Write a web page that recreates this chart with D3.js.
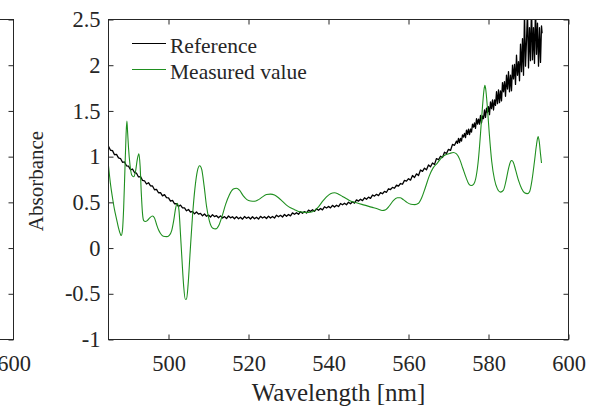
<!DOCTYPE html>
<html>
<head>
<meta charset="utf-8">
<script src="https://cdn.jsdelivr.net/npm/d3@7/dist/d3.min.js"></script>
<style>
  body { margin: 0; background: #fff; }
  svg text { font-family: "Liberation Serif", "Times New Roman", serif !important; fill: #262626; }
</style>
</head>
<body>
<div id="chart"></div>
<script>
// ---- data ----
const xDomain = [485, 600]
const yDomain = [-1, 2.5]
const xTicks = [500, 520, 540, 560, 580, 600]
const yTicks = [-1, -0.5, 0, 0.5, 1, 1.5, 2, 2.5]
const seriesNames = ['Reference', 'Measured value']
const xLabel = 'Wavelength [nm]'
const yLabel = 'Absorbance'

// reference spectrum, quieter part [wavelength, absorbance]
const refSmooth = [
  [485, 1.112], [485.5, 1.070], [486, 1.066], [486.5, 1.021], [487, 1.025], [487.5, 0.986],
  [488, 0.979], [488.5, 0.938], [489, 0.942], [489.5, 0.900], [490, 0.896], [490.5, 0.856],
  [491, 0.865], [491.5, 0.826], [492, 0.819], [492.5, 0.778], [493, 0.782], [493.5, 0.740],
  [494, 0.736], [494.5, 0.701], [495, 0.715], [495.5, 0.681], [496, 0.679], [496.5, 0.638],
  [497, 0.642], [497.5, 0.605], [498, 0.606], [498.5, 0.571], [499, 0.585], [499.5, 0.551],
  [500, 0.549], [500.5, 0.513], [501, 0.522], [501.5, 0.485], [502, 0.486], [502.5, 0.454],
  [503, 0.470], [503.5, 0.439], [504, 0.439], [504.5, 0.408], [505, 0.422], [505.5, 0.393],
  [506, 0.401], [506.5, 0.374], [507, 0.395], [507.5, 0.371], [508, 0.379], [508.5, 0.353],
  [509, 0.372], [509.5, 0.348], [510, 0.361], [510.5, 0.339], [511, 0.365], [511.5, 0.344],
  [512, 0.354], [512.5, 0.331], [513, 0.352], [513.5, 0.329], [514, 0.344], [514.5, 0.323],
  [515, 0.351], [515.5, 0.331], [516, 0.343], [516.5, 0.321], [517, 0.344], [517.5, 0.321],
  [518, 0.337], [518.5, 0.316], [519, 0.345], [519.5, 0.326], [520, 0.339], [520.5, 0.318],
  [521, 0.342], [521.5, 0.320], [522, 0.337], [522.5, 0.317], [523, 0.347], [523.5, 0.329],
  [524, 0.343], [524.5, 0.323], [525, 0.349], [525.5, 0.328], [526, 0.346], [526.5, 0.328],
  [527, 0.359], [527.5, 0.342], [528, 0.358], [528.5, 0.340], [529, 0.367], [529.5, 0.348],
  [530, 0.368], [530.5, 0.352], [531, 0.385], [531.5, 0.370], [532, 0.387], [532.5, 0.370],
  [533, 0.398], [533.5, 0.380], [534, 0.399], [534.5, 0.383], [535, 0.415], [535.5, 0.401],
  [536, 0.419], [536.5, 0.402], [537, 0.430], [537.5, 0.413], [538, 0.433], [538.5, 0.418],
  [539, 0.452], [539.5, 0.438], [540, 0.456], [540.5, 0.439], [541, 0.467], [541.5, 0.449],
  [542, 0.469], [542.5, 0.454], [543, 0.487], [543.5, 0.473], [544, 0.490], [544.5, 0.474],
  [545, 0.502], [545.5, 0.485], [546, 0.506], [546.5, 0.492], [547, 0.527], [547.5, 0.514],
  [548, 0.534], [548.5, 0.519], [549, 0.550], [549.5, 0.534], [550, 0.557], [550.5, 0.544],
  [551, 0.580], [551.5, 0.568], [552, 0.588], [552.5, 0.574], [553, 0.606], [553.5, 0.594],
  [554, 0.620], [554.5, 0.610], [555, 0.649], [555.5, 0.640], [556, 0.664], [556.5, 0.654],
  [557, 0.689], [557.5, 0.678], [558, 0.706], [558.5, 0.698], [559, 0.740], [559.5, 0.733],
  [560, 0.759], [560.5, 0.743], [561, 0.794], [561.5, 0.772], [562, 0.812], [562.5, 0.794],
  [563, 0.854], [563.5, 0.839], [564, 0.874], [564.5, 0.856], [565, 0.909], [565.5, 0.889],
  [566, 0.930], [566.5, 0.915], [567, 0.979], [567.5, 0.966], [568, 1.004], [568.5, 0.991],
  [569, 1.049], [569.5, 1.034], [570, 1.080], [570.5, 1.068], [571, 1.134], [571.5, 1.124]
]

// reference spectrum, noisy red end
const refNoisy = [
  [572, 1.17], [572.25, 1.145], [572.5, 1.20], [572.75, 1.153], [573, 1.20], [573.25, 1.17],
  [573.5, 1.237], [573.75, 1.214], [574, 1.254], [574.25, 1.208], [574.5, 1.29], [574.75, 1.244],
  [575, 1.30], [575.25, 1.24], [575.5, 1.302], [575.75, 1.269], [576, 1.356], [576.25, 1.322],
  [576.5, 1.368], [576.75, 1.31], [577, 1.415], [577.25, 1.355], [577.5, 1.41], [577.75, 1.355],
  [578, 1.45], [578.25, 1.37], [578.5, 1.445], [578.75, 1.415], [579, 1.51], [579.25, 1.43],
  [579.5, 1.53], [579.75, 1.483], [580, 1.546], [580.25, 1.46], [580.5, 1.60], [580.75, 1.526],
  [581, 1.62], [581.25, 1.51], [581.5, 1.62], [581.75, 1.56], [582, 1.71], [582.25, 1.58],
  [582.5, 1.73], [582.75, 1.59], [583, 1.72], [583.25, 1.61], [583.5, 1.81], [583.75, 1.71],
  [584, 1.82], [584.25, 1.66], [584.5, 1.89], [584.75, 1.74], [585, 1.93], [585.25, 1.71],
  [585.5, 1.89], [585.75, 1.72], [586, 2.00], [586.25, 1.85], [586.5, 2.01], [586.75, 1.79],
  [587, 2.11], [587.25, 1.89], [587.5, 2.04], [587.75, 1.83], [588, 2.23], [588.25, 1.93],
  [588.5, 2.29], [588.75, 1.89], [589, 2.57], [589.25, 1.99], [589.5, 2.27], [589.75, 2.59],
  [590, 1.97], [590.25, 2.41], [590.5, 2.05], [590.75, 2.66], [591, 2.06], [591.25, 2.41],
  [591.5, 2.02], [591.75, 2.65], [592, 2.12], [592.25, 2.46], [592.5, 1.99], [592.75, 2.41],
  [593, 2.03], [593.25, 2.43], [593.4, 2.35]
]

// measured spectrum [wavelength, absorbance]
const measured = [
  [485, 0.90], [485.5, 0.70], [486, 0.55], [486.5, 0.42], [487, 0.32], [487.5, 0.22],
  [488, 0.15], [488.2, 0.137], [488.5, 0.20], [488.8, 0.45], [489.1, 0.85], [489.4, 1.25],
  [489.6, 1.39], [489.8, 1.25], [490, 1.10], [490.4, 0.90], [490.8, 0.80], [491.3, 0.78],
  [491.8, 0.85], [492.2, 0.97], [492.6, 1.03], [492.9, 0.90], [493.2, 0.60], [493.5, 0.38],
  [493.8, 0.30], [494.2, 0.29], [494.7, 0.30], [495.3, 0.33], [496, 0.35], [496.5, 0.33],
  [497, 0.26], [497.5, 0.20], [498, 0.16], [498.7, 0.13], [499.5, 0.125], [500.2, 0.14],
  [500.8, 0.19], [501.3, 0.30], [501.8, 0.44], [502.2, 0.49], [502.6, 0.42], [503, 0.15],
  [503.4, -0.15], [503.8, -0.42], [504.2, -0.56], [504.5, -0.56], [504.9, -0.40], [505.4, -0.05],
  [506, 0.35], [506.6, 0.65], [507.2, 0.84], [507.8, 0.90], [508.3, 0.86], [508.9, 0.68],
  [509.5, 0.46], [510.2, 0.30], [511, 0.22], [511.8, 0.21], [512.6, 0.25], [513.4, 0.35],
  [514.3, 0.48], [515.2, 0.58], [516.2, 0.645], [517, 0.655], [517.8, 0.63], [518.7, 0.57],
  [519.6, 0.53], [520.5, 0.515], [521.5, 0.512], [522.5, 0.53], [523.5, 0.56], [524.5, 0.585],
  [525.5, 0.59], [526.5, 0.58], [527.5, 0.55], [528.5, 0.51], [529.5, 0.47], [530.5, 0.44],
  [531.5, 0.42], [532.5, 0.40], [533.5, 0.393], [534.5, 0.39], [535.5, 0.392], [536.5, 0.41],
  [537.5, 0.45], [538.5, 0.51], [539.5, 0.56], [540.5, 0.595], [541.5, 0.605], [542.5, 0.59],
  [543.5, 0.565], [544.5, 0.54], [545.5, 0.515], [547, 0.495], [549, 0.47], [551, 0.445],
  [552.5, 0.425], [553.4, 0.411], [554.3, 0.42], [555.2, 0.46], [556.2, 0.52], [557.2, 0.55],
  [557.9, 0.55], [558.7, 0.53], [559.6, 0.50], [560.6, 0.48], [561.6, 0.475], [562.5, 0.49],
  [563.3, 0.55], [564.2, 0.66], [565.2, 0.79], [566.2, 0.88], [567.2, 0.93], [568.3, 0.99],
  [569.3, 1.02], [570.3, 1.035], [571.2, 1.045], [572, 1.03], [572.8, 0.97], [573.6, 0.87],
  [574.4, 0.77], [575.1, 0.70], [575.7, 0.685], [576.3, 0.70], [576.9, 0.78], [577.5, 0.98],
  [578, 1.25], [578.5, 1.55], [578.9, 1.74], [579.1, 1.78], [579.3, 1.74], [579.7, 1.55],
  [580.2, 1.25], [580.8, 0.95], [581.5, 0.75], [582.2, 0.65], [583, 0.612], [583.7, 0.63],
  [584.4, 0.74], [585, 0.87], [585.5, 0.945], [585.8, 0.958], [586.2, 0.94], [586.8, 0.85],
  [587.5, 0.74], [588.3, 0.65], [589, 0.605], [589.7, 0.595], [590.3, 0.62], [590.9, 0.75],
  [591.5, 0.95], [592, 1.13], [592.4, 1.22], [592.7, 1.16], [593, 1.03], [593.25, 0.93]
]

const reference = refSmooth.concat(refNoisy)

// ---- layout ----
const outerWidth = 604
const outerHeight = 409
const margin = {top: 19, right: 36, bottom: 70, left: 108}
const width = outerWidth - margin.left - margin.right   // 460
const height = outerHeight - margin.top - margin.bottom // 320
const axisColor = '#262626'
const serif = 'Liberation Serif, Times New Roman, serif'
const tickFont = 22.5
const tickLen = 5
const fmt = d => String(d)  // plain hyphen minus like the original

const svg = d3.select('#chart')
  .append('svg')
  .attr('width', outerWidth)
  .attr('height', outerHeight)
  .attr('font-family', serif)

const x = d3.scaleLinear().domain(xDomain).range([0, width])
const y = d3.scaleLinear().domain(yDomain).range([height, 0])

// d3 axes stamp font-family="sans-serif" on their group, so put the serif back
let styleTicks = s => {
  s.attr('font-family', serif).attr('font-size', tickFont)
  s.selectAll('text')
    .attr('font-family', serif)
    .attr('font-size', tickFont)
    .attr('fill', axisColor)
}

// ---- neighbouring panel, only its right edge shows ----
let left = svg.append('g').attr('transform', `translate(13.5,${margin.top + 0.5})`)
let xl = d3.scaleLinear().domain(xDomain).range([-width, 0])
left.append('rect')
  .attr('x', -width).attr('y', 0)
  .attr('width', width).attr('height', height)
  .attr('fill', 'none').attr('stroke', axisColor)
left.append('g')
  .call(d3.axisLeft(y).tickValues(yTicks).tickSize(0).tickFormat(''))
  .call(s => s.select('.domain').remove())
  .call(s => s.selectAll('.tick line').attr('x2', -tickLen).attr('stroke', axisColor))
left.append('g')
  .attr('transform', `translate(0,${height})`)
  .call(d3.axisBottom(xl).tickValues([600]).tickSize(0).tickPadding(16).tickFormat(fmt))
  .call(s => s.select('.domain').remove())
  .call(styleTicks)

// ---- main panel ----
let g = svg.append('g')
  .attr('transform', `translate(${margin.left + 0.5},${margin.top + 0.5})`)

g.append('clipPath').attr('id', 'plot-clip')
  .append('rect').attr('width', width).attr('height', height)

// axes: ticks point inward on all four sides
g.append('g')
  .attr('transform', `translate(0,${height})`)
  .call(d3.axisBottom(x).tickValues(xTicks).tickSize(-tickLen).tickSizeOuter(0)
    .tickPadding(16).tickFormat(fmt))
  .call(s => s.select('.domain').remove())
  .call(s => s.selectAll('.tick line').attr('stroke', axisColor))
  .call(styleTicks)

g.append('g')
  .call(d3.axisTop(x).tickValues(xTicks).tickSize(-tickLen).tickFormat(''))
  .call(s => s.select('.domain').remove())
  .call(s => s.selectAll('.tick line').attr('stroke', axisColor))

g.append('g')
  .call(d3.axisLeft(y).tickValues(yTicks).tickSize(-tickLen).tickPadding(8).tickFormat(fmt))
  .call(s => s.select('.domain').remove())
  .call(s => s.selectAll('.tick line').attr('stroke', axisColor))
  .call(styleTicks)

g.append('g')
  .attr('transform', `translate(${width},0)`)
  .call(d3.axisRight(y).tickValues(yTicks).tickSize(-tickLen).tickFormat(''))
  .call(s => s.select('.domain').remove())
  .call(s => s.selectAll('.tick line').attr('stroke', axisColor))

// lines
let line = d3.line()
  .x(d => x(d[0]))
  .y(d => y(d[1]))

let plot = g.append('g').attr('clip-path', 'url(#plot-clip)')

plot.append('path')
  .datum(reference)
  .attr('fill', 'none')
  .attr('stroke', '#000')
  .attr('stroke-width', 1.3)
  .attr('stroke-linejoin', 'round')
  .attr('d', line)

plot.append('path')
  .datum(measured)
  .attr('fill', 'none')
  .attr('stroke', '#1f8f1f')
  .attr('stroke-width', 1.1)
  .attr('d', line.curve(d3.curveMonotoneX))

// box
g.append('rect')
  .attr('width', width).attr('height', height)
  .attr('fill', 'none').attr('stroke', axisColor)

// axis labels
g.append('text')
  .attr('x', width / 2)
  .attr('y', 381)
  .attr('text-anchor', 'middle')
  .attr('font-size', 25)
  .text(xLabel)

svg.append('text')
  .attr('transform', 'translate(43,181) rotate(-90)')
  .attr('text-anchor', 'middle')
  .attr('font-size', 21)
  .text(yLabel)

// legend
let colors = ['#000', '#1f8f1f']
let legend = svg.append('g')
seriesNames.forEach((name, i) => {
  let ly = 43 + i * 26
  legend.append('line')
    .attr('x1', 132).attr('x2', 166)
    .attr('y1', ly + 0.5).attr('y2', ly + 0.5)
    .attr('stroke', colors[i])
    .attr('stroke-width', 1)
  legend.append('text')
    .attr('x', 170)
    .attr('y', ly + 10)
    .attr('font-size', 21.5)
    .text(name)
})
</script>
</body>
</html>
